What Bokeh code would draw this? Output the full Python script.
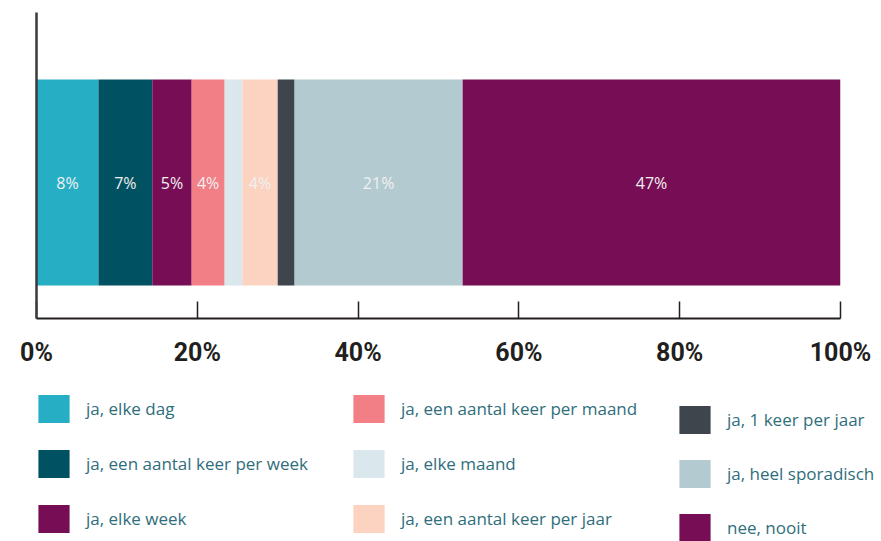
import numpy as np
from bokeh.plotting import figure
from bokeh.layouts import column
from bokeh.models import Range1d, FixedTicker, PrintfTickFormatter, Legend, LegendItem, ColumnDataSource
from bokeh.core.properties import value
from bokeh.embed import file_html
from bokeh.resources import INLINE

categories = [
    "ja, elke dag",
    "ja, een aantal keer per week",
    "ja, elke week",
    "ja, een aantal keer per maand",
    "ja, elke maand",
    "ja, een aantal keer per jaar",
    "ja, 1 keer per jaar",
    "ja, heel sporadisch",
    "nee, nooit",
]
values = [7.7, 6.7, 4.9, 4.1, 2.2, 4.4, 2.1, 20.9, 47.0]
bar_labels = ["8%", "7%", "5%", "4%", "", "4%", "", "21%", "47%"]
colors = ["#26AEC5", "#005262", "#770E55", "#F27E86", "#DAE8ED",
          "#FCD2C0", "#3E454D", "#B3CAD0", "#770E55"]
x_ticks = [0, 20, 40, 60, 80, 100]

FONT = "Open Sans"

p = figure(width=881, height=380, output_backend="svg", toolbar_location=None,
           x_range=Range1d(0, 100), y_range=Range1d(-0.66, 0.825),
           min_border_left=36, min_border_right=41, min_border_top=12,
           min_border_bottom=62)
p.frame_align = False
p.outline_line_color = None
p.xgrid.visible = False
p.ygrid.visible = False
p.background_fill_color = "white"

data = {"y": [0.0]}
for c, v in zip(categories, values):
    data[c] = [v]
src = ColumnDataSource(data)
p.hbar_stack(categories, y="y", height=1.0, color=colors, source=src, line_color=None)

ends = np.cumsum(values)
starts = ends - np.array(values)
centers = (starts + ends) / 2
lab_src = ColumnDataSource(dict(x=centers, y=np.zeros(len(values)), t=bar_labels))
p.text(x="x", y="y", text="t", source=lab_src, text_align="center",
       text_baseline="middle", text_color="#f0f0f0", text_font_size="16px",
       text_font=value(FONT))

# x axis
xa = p.xaxis[0]
xa.ticker = FixedTicker(ticks=x_ticks)
xa.formatter = PrintfTickFormatter(format="%d%%")
xa.minor_tick_line_color = None
xa.major_tick_in = 17
xa.major_tick_out = 0
xa.major_tick_line_color = "#231f20"
xa.major_tick_line_width = 1.5
xa.axis_line_color = "#231f20"
xa.axis_line_width = 2
xa.major_label_text_font = "Roboto"
xa.major_label_text_font_style = "bold"
xa.major_label_text_font_size = "25px"
xa.major_label_text_color = "#231f20"
xa.major_label_standoff = 19

# y axis: only the line
ya = p.yaxis[0]
ya.ticker = FixedTicker(ticks=[])
ya.major_tick_line_color = None
ya.minor_tick_line_color = None
ya.axis_line_color = "#3a3a3a"
ya.axis_line_width = 2.5

# legend figure
lf = figure(width=881, height=161, output_backend="svg", toolbar_location=None,
            x_range=Range1d(0, 100), y_range=Range1d(10, 11),
            min_border_left=0, min_border_right=0, min_border_top=0, min_border_bottom=0)
lf.frame_align = False
lf.axis.visible = False
lf.grid.visible = False
lf.outline_line_color = None
lrs = lf.hbar_stack(categories, y="y", height=1.0, color=colors, source=src, line_color=None)

items = [LegendItem(label=c, renderers=[r]) for c, r in zip(categories, lrs)]
groups = [(items[0:3], (34, 5), 20), (items[3:6], (349, 5), 20), (items[6:9], (675, -4), 19)]
for its, loc, sp in groups:
    lg = Legend(items=its, location=loc, orientation="vertical",
                glyph_width=39, glyph_height=35, label_standoff=13, spacing=sp,
                padding=0, margin=0, border_line_color=None, background_fill_alpha=0,
                label_text_font=FONT, label_text_font_size="17px",
                label_text_color="#2f6e7b", label_height=20)
    lf.add_layout(lg, "center")

layout = column(p, lf, spacing=0)
open("out.html", "w").write(file_html(layout, INLINE))
